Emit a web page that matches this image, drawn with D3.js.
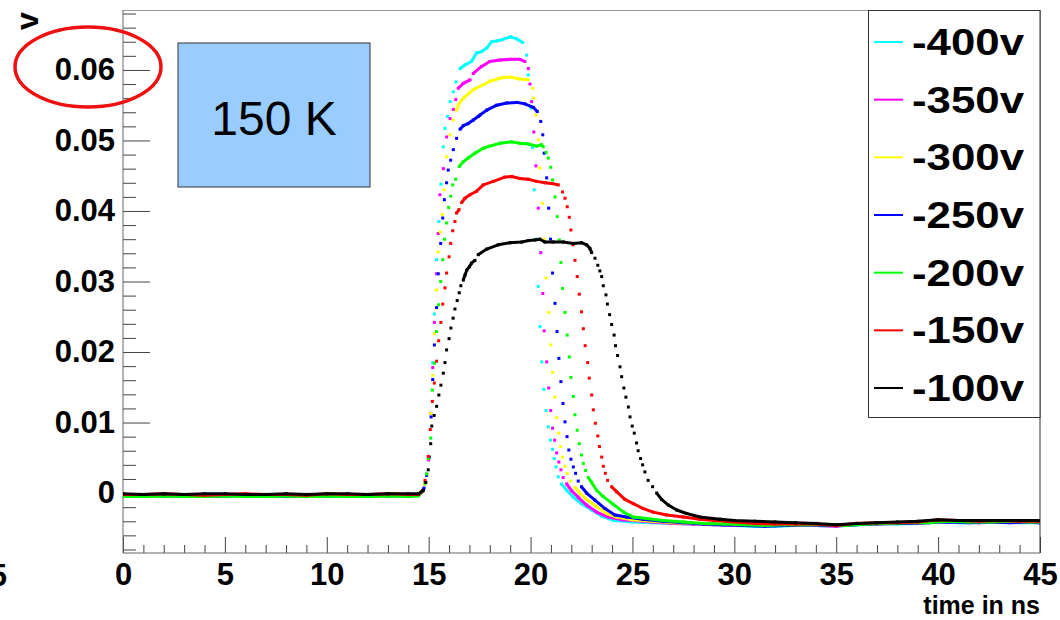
<!DOCTYPE html>
<html>
<head>
<meta charset="utf-8">
<script src="https://cdn.jsdelivr.net/npm/d3@7"></script>
<style>
body { margin: 0; background: #fff; }
text { font-family: "Liberation Sans", Arial, Helvetica, sans-serif; }
</style>
</head>
<body>
<div id="chart"></div>
<script>
const width = 1060;
const height = 620;

// legend / series
const seriesNames = ["-400v", "-350v", "-300v", "-250v", "-200v", "-150v", "-100v"];
const seriesColors = ["#00ffff", "#ff00ff", "#ffff00", "#0000ff", "#00ff00", "#ff0000", "#000000"];

const xTicks = [0, 5, 10, 15, 20, 25, 30, 35, 40, 45];
const yTicks = [0, 0.01, 0.02, 0.03, 0.04, 0.05, 0.06];

// waveforms, [time in ns, volts]
const s400 = [[0,-0.0004],[1,-0.0003],[2,-0.0004],[3,-0.0004],[4,-0.0003],[5,-0.0004],[6,-0.0003],[7,-0.0004],[8,-0.0004],[9,-0.0003],[10,-0.0004],[11,-0.0004],[12,-0.0003],[13,-0.0003],[14,-0.0004],[14.5,-0.0003],
  [14.7,0.0003],[14.8,0.0013],[14.9,0.0028],[15.0,0.0052],[15.1,0.0113],[15.2,0.0185],[15.28,0.0254],[15.39,0.0331],[15.5,0.0385],[15.6,0.0438],[15.72,0.0491],[15.8,0.0517],[15.92,0.0534],[16.05,0.0555],[16.21,0.0569],[16.34,0.0583],[16.54,0.0602],[16.78,0.0607],[17.1,0.0612],[17.35,0.0624],[17.6,0.0626],[17.85,0.0631],[18.09,0.064],[18.5,0.0642],[19.0,0.0647],[19.32,0.0644],[19.61,0.0639],[19.8,0.0621],
  [19.89,0.0593],[20.02,0.0546],[20.1,0.049],[20.18,0.043],[20.28,0.036],[20.38,0.0293],[20.46,0.0236],[20.55,0.0186],[20.65,0.0147],[20.76,0.0117],[20.87,0.0094],[20.97,0.0075],[21.08,0.0062],[21.16,0.0049],[21.25,0.0037],[21.36,0.0023],[21.52,0.0013],[21.77,0.0004],[22.1,-0.0006],[22.5,-0.0015],[23.0,-0.0024],[23.5,-0.0033],[24.1,-0.0039],
  [25,-0.0041],[26,-0.0042],[27,-0.0043],[28,-0.0044],[29,-0.0045],[30,-0.0046],[31,-0.0047],[32,-0.0047],[33,-0.0046],[34,-0.0046],[35,-0.0047],[36,-0.0045],[37,-0.0044],[38,-0.0044],[39,-0.0043],[40,-0.004],[41,-0.0042],[42,-0.0042],[43,-0.0041],[44,-0.0042],[45,-0.0042]];

const s350 = [[0,-0.0004],[1,-0.0004],[2,-0.0003],[3,-0.0005],[4,-0.0004],[5,-0.0004],[6,-0.0003],[7,-0.0004],[8,-0.0004],[9,-0.0004],[10,-0.0003],[11,-0.0004],[12,-0.0004],[13,-0.0003],[14,-0.0004],[14.5,-0.0003],
  [14.7,0.0003],[14.8,0.0013],[14.9,0.0027],[15.0,0.0047],[15.1,0.0113],[15.2,0.0178],[15.28,0.0242],[15.39,0.0311],[15.47,0.0368],[15.55,0.0423],[15.72,0.046],[15.88,0.0505],[16.05,0.0531],[16.21,0.0544],[16.33,0.0558],[16.45,0.0574],[16.7,0.0581],[17.03,0.0586],[17.19,0.0595],[17.6,0.0605],[18.0,0.0612],[18.5,0.0614],[19.0,0.0615],[19.48,0.0615],[19.72,0.0612],[19.89,0.0602],
  [19.97,0.058],[20.05,0.0555],[20.16,0.0512],[20.26,0.0464],[20.38,0.0404],[20.5,0.0341],[20.6,0.0283],[20.67,0.023],[20.79,0.0186],[20.89,0.0149],[20.99,0.0117],[21.08,0.0092],[21.18,0.0075],[21.28,0.0057],[21.39,0.0044],[21.49,0.0033],[21.6,0.0022],[21.77,0.0013],[22.02,0.0003],[22.34,-0.0006],[22.75,-0.0017],[23.24,-0.0027],[23.81,-0.0034],[24.5,-0.0038],[25,-0.0039],
  [26,-0.0041],[27,-0.0043],[28,-0.0044],[29,-0.0045],[30,-0.0046],[31,-0.0046],[32,-0.0046],[33,-0.0045],[34,-0.0046],[35,-0.0047],[36,-0.0044],[37,-0.0044],[38,-0.0043],[39,-0.0043],[40,-0.004],[41,-0.0041],[42,-0.0042],[43,-0.0041],[44,-0.0041],[45,-0.0042]];

const s300 = [[0,-0.0003],[1,-0.0004],[2,-0.0004],[3,-0.0003],[4,-0.0004],[5,-0.0003],[6,-0.0004],[7,-0.0004],[8,-0.0003],[9,-0.0004],[10,-0.0004],[11,-0.0003],[12,-0.0004],[13,-0.0004],[14,-0.0003],[14.5,-0.0003],
  [14.7,0.0003],[14.8,0.0013],[14.9,0.0027],[15.0,0.0051],[15.1,0.0113],[15.2,0.0167],[15.28,0.0226],[15.39,0.0288],[15.47,0.0342],[15.57,0.037],[15.67,0.0395],[15.76,0.043],[15.88,0.0477],[16.05,0.0508],[16.21,0.0529],[16.37,0.0543],[16.45,0.055],[16.7,0.056],[17.19,0.0572],[17.68,0.0579],[18.0,0.0584],[18.58,0.0589],[19.0,0.059],[19.48,0.0587],[19.89,0.0586],[20.1,0.0574],
  [20.16,0.056],[20.26,0.0536],[20.38,0.0501],[20.46,0.0461],[20.58,0.0411],[20.67,0.036],[20.76,0.0305],[20.89,0.0256],[20.99,0.021],[21.08,0.0171],[21.18,0.0136],[21.28,0.0107],[21.38,0.0085],[21.48,0.0066],[21.57,0.0051],[21.69,0.0038],[21.8,0.0028],[21.97,0.0017],[22.18,0.0008],[22.42,0.0],[22.75,-0.0009],[23.24,-0.0019],[23.73,-0.0029],[24.22,-0.0034],
  [25,-0.0038],[26,-0.004],[27,-0.0042],[28,-0.0043],[29,-0.0044],[30,-0.0045],[31,-0.0046],[32,-0.0046],[33,-0.0045],[34,-0.0045],[35,-0.0046],[36,-0.0044],[37,-0.0043],[38,-0.0043],[39,-0.0042],[40,-0.004],[41,-0.0041],[42,-0.0041],[43,-0.0041],[44,-0.0041],[45,-0.0041]];

const s250 = [[0,-0.0003],[1,-0.0003],[2,-0.0004],[3,-0.0003],[4,-0.0004],[5,-0.0004],[6,-0.0003],[7,-0.0003],[8,-0.0005],[9,-0.0003],[10,-0.0004],[11,-0.0003],[12,-0.0003],[13,-0.0004],[14,-0.0003],[14.5,-0.0003],
  [14.7,0.0003],[14.77,0.0007],[14.9,0.0025],[15.03,0.0051],[15.12,0.0108],[15.2,0.0161],[15.28,0.021],[15.39,0.0263],[15.47,0.0311],[15.59,0.0354],[15.69,0.039],[15.77,0.0416],[15.88,0.044],[15.96,0.0458],[16.08,0.0472],[16.21,0.0487],[16.37,0.0503],[16.54,0.0516],[16.7,0.0521],[16.94,0.0524],[17.19,0.0529],[17.43,0.0534],[17.52,0.0536],[17.85,0.0543],[18.34,0.055],[18.83,0.0553],[19.32,0.0554],[19.72,0.0552],[20.13,0.0547],[20.33,0.0541],
  [20.5,0.0527],[20.6,0.0508],[20.67,0.0482],[20.79,0.0447],[20.89,0.0404],[20.98,0.036],[21.08,0.0312],[21.2,0.0269],[21.3,0.0229],[21.39,0.0191],[21.49,0.0158],[21.59,0.0127],[21.69,0.0101],[21.79,0.008],[21.88,0.0061],[21.98,0.0048],[22.1,0.0037],[22.21,0.0028],[22.34,0.0017],[22.5,0.0009],[22.75,0.0],[23.16,-0.001],[23.65,-0.0022],[24.14,-0.0031],[24.71,-0.0034],
  [25.5,-0.0037],[26.5,-0.004],[27.5,-0.0042],[28.5,-0.0044],[29.5,-0.0045],[30.5,-0.0046],[31.5,-0.0047],[32.5,-0.0046],[33.5,-0.0045],[34.5,-0.0046],[35.5,-0.0046],[36.5,-0.0044],[37.5,-0.0043],[38.5,-0.0043],[39.5,-0.0042],[40.5,-0.0041],[41.5,-0.0042],[42.5,-0.0041],[43.5,-0.0042],[44.5,-0.0041],[45,-0.0042]];

const s200 = [[0,-0.0005],[1,-0.0005],[2,-0.0004],[3,-0.0005],[4,-0.0005],[5,-0.0004],[6,-0.0005],[7,-0.0005],[8,-0.0004],[9,-0.0005],[10,-0.0004],[11,-0.0005],[12,-0.0005],[13,-0.0004],[14,-0.0005],[14.5,-0.0004],
  [14.7,0.0003],[14.82,0.0014],[14.9,0.0027],[14.98,0.0049],[15.1,0.0078],[15.18,0.0146],[15.28,0.0184],[15.38,0.0229],[15.49,0.0267],[15.59,0.03],[15.69,0.0331],[15.78,0.036],[15.88,0.0383],[15.98,0.0405],[16.08,0.0421],[16.18,0.0437],[16.32,0.0445],[16.5,0.0463],[16.7,0.047],[16.94,0.0475],[17.27,0.0482],[17.68,0.0489],[18.0,0.0492],[18.5,0.0496],[19.07,0.0498],[19.48,0.0496],[19.89,0.0495],[20.3,0.0492],[20.54,0.0494],[20.62,0.0491],[20.76,0.0483],[20.87,0.0475],
  [20.99,0.0462],[21.08,0.0444],[21.2,0.042],[21.31,0.0392],[21.41,0.0359],[21.49,0.0327],[21.57,0.029],[21.69,0.0256],[21.8,0.0224],[21.9,0.0193],[21.98,0.0164],[22.1,0.0137],[22.18,0.0111],[22.29,0.0089],[22.39,0.007],[22.5,0.0054],[22.59,0.0042],[22.7,0.0032],[22.83,0.0022],[23.0,0.0015],[23.24,0.0004],[23.57,-0.0005],[24.06,-0.0016],[24.56,-0.0027],[25.04,-0.0034],[25.7,-0.0036],
  [26.5,-0.0039],[27.5,-0.0041],[28.5,-0.0043],[29.5,-0.0044],[30.5,-0.0045],[31.5,-0.0046],[32.5,-0.0045],[33.5,-0.0045],[34.5,-0.0045],[35.5,-0.0046],[36.5,-0.0044],[37.5,-0.0043],[38.5,-0.0042],[39.5,-0.0042],[40.5,-0.004],[41.5,-0.0041],[42.5,-0.0041],[43.5,-0.004],[44.5,-0.0041],[45,-0.0041]];

const s150 = [[0,-0.0002],[1,-0.0002],[2,-0.0001],[3,-0.0002],[4,-0.0003],[5,-0.0002],[6,-0.0001],[7,-0.0002],[8,-0.0002],[9,-0.0003],[10,-0.0001],[11,-0.0002],[12,-0.0002],[13,-0.0001],[14,-0.0002],[14.5,-0.0002],
  [14.7,0.0003],[14.82,0.0018],[14.98,0.0052],[15.08,0.009],[15.18,0.013],[15.28,0.0156],[15.39,0.0187],[15.49,0.0216],[15.6,0.0242],[15.69,0.0268],[15.8,0.0291],[15.88,0.0312],[16.0,0.0335],[16.08,0.0354],[16.18,0.0372],[16.29,0.0385],[16.37,0.0397],[16.49,0.0402],[16.62,0.0412],[16.78,0.0418],[17.03,0.0423],[17.35,0.0428],[17.68,0.0437],[18.17,0.0442],[18.74,0.0448],[19.07,0.0449],[19.48,0.0446],[19.89,0.0445],[20.3,0.0442],[20.71,0.044],[21.04,0.0439],[21.36,0.0437],[21.57,0.0427],[21.69,0.0418],[21.8,0.0406],
  [21.9,0.0391],[21.98,0.0373],[22.08,0.0352],[22.18,0.033],[22.29,0.0307],[22.39,0.0282],[22.5,0.0257],[22.59,0.0233],[22.68,0.0209],[22.8,0.0185],[22.88,0.0163],[23.0,0.0139],[23.08,0.0118],[23.18,0.0099],[23.3,0.0081],[23.38,0.0066],[23.49,0.0051],[23.57,0.0038],[23.67,0.0028],[23.78,0.0018],[23.98,0.0009],[24.22,0.0002],[24.63,-0.0009],[25.04,-0.0015],[25.53,-0.0022],[26.02,-0.0027],[26.68,-0.0031],[27.5,-0.0034],[28.3,-0.0037],
  [29,-0.0039],[30,-0.0041],[31,-0.0043],[32,-0.0044],[33,-0.0044],[34,-0.0044],[35,-0.0046],[36,-0.0043],[37,-0.0042],[38,-0.0042],[39,-0.0041],[40,-0.0038],[41,-0.0039],[42,-0.004],[43,-0.0039],[44,-0.004],[45,-0.004]];

const s100 = [[0,-0.0001],[1,-0.0002],[2,-0.0001],[3,-0.0002],[4,-0.0001],[5,-0.0001],[6,-0.0002],[7,-0.0002],[8,-0.0001],[9,-0.0002],[10,-0.0001],[11,-0.0001],[12,-0.0002],[13,-0.0001],[14,-0.0001],[14.5,-0.0001],
  [14.74,0.0004],[14.86,0.0015],[14.98,0.0033],[15.1,0.007],[15.15,0.0095],[15.27,0.011],[15.39,0.0123],[15.5,0.0139],[15.6,0.0153],[15.72,0.017],[15.8,0.0185],[15.88,0.0203],[16.0,0.0219],[16.09,0.0234],[16.2,0.0248],[16.29,0.0261],[16.4,0.0273],[16.5,0.0284],[16.58,0.0294],[16.7,0.0302],[16.78,0.0309],[16.87,0.0316],[17.0,0.0321],[17.1,0.0326],[17.27,0.033],[17.43,0.0338],[17.85,0.0346],[18.41,0.0352],[18.99,0.0355],[19.56,0.0356],[19.89,0.0358],[20.22,0.0359],[20.46,0.036],[20.7,0.0356],[21.11,0.0356],[21.6,0.0356],[22.1,0.0354],[22.5,0.0355],[22.75,0.0352],[22.91,0.0347],
  [23.0,0.0341],[23.16,0.0333],[23.3,0.0323],[23.4,0.0315],[23.49,0.0307],[23.57,0.0294],[23.7,0.0281],[23.77,0.0268],[23.88,0.0253],[23.98,0.0239],[24.1,0.0224],[24.17,0.0209],[24.27,0.0195],[24.39,0.0179],[24.47,0.0165],[24.58,0.0149],[24.68,0.0136],[24.8,0.0122],[24.88,0.0108],[24.99,0.0095],[25.09,0.0085],[25.2,0.0071],[25.28,0.006],[25.4,0.0049],[25.5,0.004],[25.61,0.003],[25.77,0.0018],[25.99,0.0009],[26.19,0.0],[26.43,-0.0009],[26.76,-0.0017],[27.17,-0.0024],[27.66,-0.0029],[28.3,-0.0034],[28.96,-0.0036],[29.3,-0.0037],
  [30,-0.0039],[31,-0.004],[32,-0.0041],[33,-0.0042],[34,-0.0043],[35,-0.0045],[36,-0.0043],[37,-0.0042],[38,-0.0041],[39,-0.004],[40,-0.0038],[41,-0.0039],[42,-0.0039],[43,-0.0039],[44,-0.0039],[45,-0.0039]];

const seriesData = [s400, s350, s300, s250, s200, s150, s100];

const svg = d3.select("#chart").append("svg")
    .attr("width", width)
    .attr("height", height);

svg.append("rect").attr("width", width).attr("height", height).attr("fill", "#fff");

const x = d3.scaleLinear().domain([0, 45]).range([123, 1040]);
const y = d3.scaleLinear().domain([-0.0085, 0.0685]).range([553, 10]);

svg.append("defs").append("clipPath")
    .attr("id", "clip")
    .append("rect")
    .attr("x", 123).attr("y", 10)
    .attr("width", 917).attr("height", 543);

// minor ticks
const yMinor = d3.range(-0.008, 0.0685, 0.002).filter(v => Math.abs(Math.round(v * 100) - v * 100) > 1e-6);
const xMinor = d3.range(0, 46, 1).filter(v => v % 5 !== 0);

svg.append("g")
    .attr("transform", "translate(123,0)")
    .call(d3.axisLeft(y).tickValues(yMinor).tickSize(-13).tickFormat(""))
    .call(g => g.select(".domain").remove())
    .selectAll("line").attr("stroke", "#444");

svg.append("g")
    .attr("transform", "translate(0,553)")
    .call(d3.axisBottom(x).tickValues(xMinor).tickSize(-8).tickFormat(""))
    .call(g => g.select(".domain").remove())
    .selectAll("line").attr("stroke", "#444");

const yAxis = svg.append("g")
    .attr("transform", "translate(123,0)")
    .call(d3.axisLeft(y).tickValues(yTicks).tickSize(-27).tickPadding(8)
        .tickFormat(d => d === 0 ? "0" : d3.format(".2f")(d)))
    .call(g => g.select(".domain").remove());
yAxis.selectAll("line").attr("stroke", "#444");
yAxis.selectAll("text")
    .attr("fill", "#000")
    .style("font-size", "31px")
    .style("font-weight", "bold");

const xAxis = svg.append("g")
    .attr("transform", "translate(0,553)")
    .call(d3.axisBottom(x).tickValues(xTicks).tickSize(-16).tickPadding(10))
    .call(g => g.select(".domain").remove());
xAxis.selectAll("line").attr("stroke", "#444");
xAxis.selectAll("text")
    .attr("fill", "#000")
    .style("font-size", "31px")
    .style("font-weight", "bold");

// cut-off label at the far left, as in the source image
svg.append("text")
    .attr("x", 7).attr("y", 586)
    .attr("text-anchor", "end")
    .style("font-size", "31px").style("font-weight", "bold")
    .text("5");

// frame
svg.append("line").attr("x1", 123).attr("x2", 1040).attr("y1", 10.5).attr("y2", 10.5).attr("stroke", "#999");
svg.append("line").attr("x1", 1040).attr("x2", 1040).attr("y1", 10).attr("y2", 553).attr("stroke", "#333");
svg.append("line").attr("x1", 123).attr("x2", 123).attr("y1", 10).attr("y2", 553).attr("stroke", "#666");
svg.append("line").attr("x1", 123).attr("x2", 1040).attr("y1", 553).attr("y2", 553).attr("stroke", "#666");

// waveforms: close samples merge into a line, steep edges stay as dots
const plot = svg.append("g").attr("clip-path", "url(#clip)");
const line = d3.line().x(d => x(d[0])).y(d => y(d[1]));

seriesData.forEach((pts, i) => {
    const runs = [];
    let run = [pts[0]];
    for (let k = 1; k < pts.length; k++) {
        const dx = Math.abs(x(pts[k][0]) - x(pts[k - 1][0]));
        const dy = Math.abs(y(pts[k][1]) - y(pts[k - 1][1]));
        if (dy < 5 || (dy < 9.5 && dx > 4.5)) {
            run.push(pts[k]);
        } else {
            runs.push(run);
            run = [pts[k]];
        }
    }
    runs.push(run);

    const g = plot.append("g");
    g.selectAll("path")
        .data(runs.filter(r => r.length > 1))
        .enter().append("path")
        .attr("d", line)
        .attr("fill", "none")
        .attr("stroke", seriesColors[i])
        .attr("stroke-width", 3)
        .attr("stroke-linejoin", "round");

    g.selectAll("rect")
        .data(pts)
        .enter().append("rect")
        .attr("x", d => x(d[0]) - 1.5)
        .attr("y", d => y(d[1]) - 1.5)
        .attr("width", 3)
        .attr("height", 3)
        .attr("fill", seriesColors[i]);
});

// y title
svg.append("text")
    .attr("transform", "translate(38,21) rotate(-90)")
    .attr("text-anchor", "middle")
    .style("font-size", "32px").style("font-weight", "bold")
    .text("v");

// x title
svg.append("text")
    .attr("x", 1040).attr("y", 614)
    .attr("text-anchor", "end")
    .style("font-size", "25px").style("font-weight", "bold")
    .text("time in ns");

// red ellipse around 0.06
svg.append("ellipse")
    .attr("cx", 88).attr("cy", 67)
    .attr("rx", 73).attr("ry", 40)
    .attr("fill", "none")
    .attr("stroke", "#ee1111")
    .attr("stroke-width", 3.5);

// temperature box
svg.append("rect")
    .attr("x", 178).attr("y", 43)
    .attr("width", 192).attr("height", 144)
    .attr("fill", "#99ccff")
    .attr("stroke", "#333");
svg.append("text")
    .attr("x", 274).attr("y", 135)
    .attr("text-anchor", "middle")
    .style("font-size", "48px")
    .text("150 K");

// legend
const legendY = d3.scalePoint().domain(seriesNames).range([42, 388]);
svg.append("rect")
    .attr("x", 868.5).attr("y", 10.5)
    .attr("width", 171.5).attr("height", 407)
    .attr("fill", "#fff")
    .attr("stroke", "#333");

const entry = svg.append("g").selectAll("g")
    .data(seriesNames)
    .enter().append("g")
    .attr("transform", d => `translate(0,${legendY(d)})`);

entry.append("line")
    .attr("x1", 874).attr("x2", 903)
    .attr("stroke", (d, i) => seriesColors[i])
    .attr("stroke-width", 2);

entry.append("text")
    .attr("x", 912)
    .attr("dy", "0.36em")
    .attr("textLength", 112)
    .attr("lengthAdjust", "spacingAndGlyphs")
    .style("font-size", "36px").style("font-weight", "bold")
    .text(d => d);
</script>
</body>
</html>
